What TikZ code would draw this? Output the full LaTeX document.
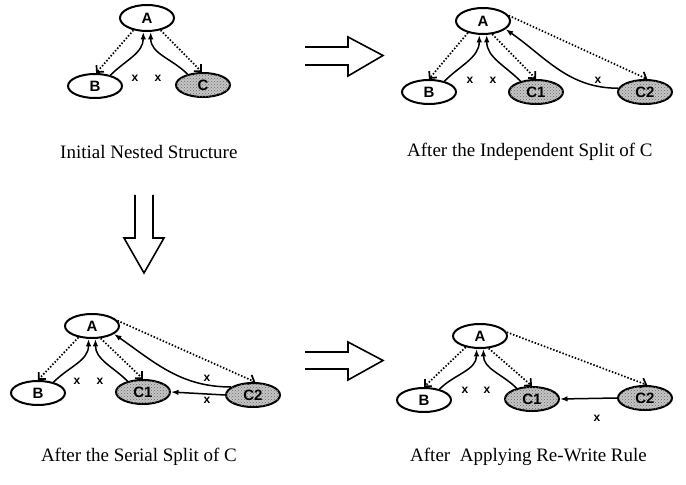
\documentclass[tikz,border=0pt]{standalone}
\usepackage{fontspec}
\setmainfont{Liberation Serif}
\setsansfont{Liberation Sans}
\usetikzlibrary{arrows.meta,shapes.geometric,patterns}
\tikzset{
  ell/.style={draw, ellipse, line width=2pt, minimum width=54pt, minimum height=24pt, inner sep=0pt, font=\sffamily\bfseries\fontsize{15}{15}\selectfont},
  shd/.style={ell, fill=gray!45, postaction={pattern=crosshatch dots, pattern color=gray!80!black}},
  solarr/.style={line width=1.5pt, -{Latex[length=7.5pt,width=5.5pt]}},
  dotarr/.style={line width=1.7pt, dash pattern=on 1.5pt off 1.8pt, -{Straight Barb[length=5pt,width=10pt]}},
  xlab/.style={font=\sffamily\bfseries\fontsize{12}{12}\selectfont, inner sep=0pt},
  captxt/.style={font=\fontsize{19}{19}\selectfont, inner sep=0pt},
  bigarr/.style={line width=1.6pt, line join=miter}
}
\begin{document}
\begin{tikzpicture}[x=1pt,y=1pt]
\useasboundingbox (0,0) rectangle (686,485);
% ---------- panel 1 ----------
\node[ell, minimum height=26pt] (A1) at (147,467) {A};
\node[ell] (B1) at (95,399) {B};
\node[shd] (C1) at (203,400) {C};
\draw[dotarr] (A1.222) -- (B1.85);
\draw[dotarr] (A1.318) -- (C1.95);
\draw[solarr] (B1.35) to[out=45,in=-90] (A1.255);
\draw[solarr] (C1.145) to[out=135,in=-90] (A1.285);
\node[xlab] (x11) at (135,407) {x};
\node[xlab] (x12) at (158,407) {x};
\node[captxt, anchor=west] (cap1) at (60,333) {Initial Nested Structure};
% ---------- panel 2 ----------
\node[ell, minimum height=26pt] (A2) at (483,464) {A};
\node[ell] (B2) at (429,393) {B};
\node[shd] (C12) at (536,393) {C1};
\node[shd] (C22) at (645,393) {C2};
\draw[dotarr] (A2.218) -- (B2.90);
\draw[dotarr] (A2.305) -- (C12.90);
\draw[dotarr] (A2.12) -- (C22.80);
\draw[solarr] (B2.35) to[out=45,in=-90] (A2.255);
\draw[solarr] (C12.145) to[out=135,in=-90] (A2.285);
\draw[solarr] (C22.172) to[out=180,in=-35] (A2.340);
\node[xlab] (x21) at (470,405) {x};
\node[xlab] (x22) at (493,405) {x};
\node[xlab] (x23) at (598,405) {x};
\node[captxt, anchor=west] (cap2) at (407,333) {After the Independent Split of C};
% ---------- panel 3 ----------
\node[ell] (A3) at (92,159) {A};
\node[ell] (B3) at (38,92) {B};
\node[shd] (C13) at (143,93) {C1};
\node[shd] (C23) at (253,90) {C2};
\draw[dotarr] (A3.220) -- (B3.90);
\draw[dotarr] (A3.305) -- (C13.90);
\draw[dotarr] (A3.12) -- (C23.80);
\draw[solarr] (B3.35) to[out=45,in=-90] (A3.255);
\draw[solarr] (C13.145) to[out=135,in=-90] (A3.285);
\draw[solarr] (C23.160) to[out=180,in=-35] (A3.340);
\draw[solarr] (C23.west) -- (C13.east);
\node[xlab] (x31) at (77,104) {x};
\node[xlab] (x32) at (100,104) {x};
\node[xlab] (x33) at (207,107) {x};
\node[xlab] (x34) at (207,85) {x};
\node[captxt, anchor=east] (cap3) at (237,28) {After the Serial Split of C};
% ---------- panel 4 ----------
\node[ell] (A4) at (480,149) {A};
\node[ell] (B4) at (424,85) {B};
\node[shd] (C14) at (532,86) {C1};
\node[shd] (C24) at (645,87) {C2};
\draw[dotarr] (A4.218) -- (B4.90);
\draw[dotarr] (A4.305) -- (C14.90);
\draw[dotarr] (A4.8) -- (C24.80);
\draw[solarr] (B4.35) to[out=45,in=-90] (A4.255);
\draw[solarr] (C14.145) to[out=135,in=-90] (A4.285);
\draw[solarr] (C24.west) -- (C14.east);
\node[xlab] (x41) at (465,95) {x};
\node[xlab] (x42) at (487,95) {x};
\node[xlab] (x43) at (597,67) {x};
\node[captxt, anchor=west] (cap4) at (410,28) {After\ \ Applying Re-Write Rule};
% ---------- big arrows ----------
\draw[bigarr] (305,438) -- (348,438) -- (348,448) -- (383,429.5) -- (348,409) -- (348,420) -- (305,420);
\draw[bigarr] (305,133) -- (348,133) -- (348,143) -- (383,124.5) -- (348,105) -- (348,116) -- (305,116);
\draw[bigarr] (135,290) -- (135,247) -- (124,247) -- (144,212) -- (164,247) -- (153,247) -- (153,290);
\end{tikzpicture}
\end{document}
